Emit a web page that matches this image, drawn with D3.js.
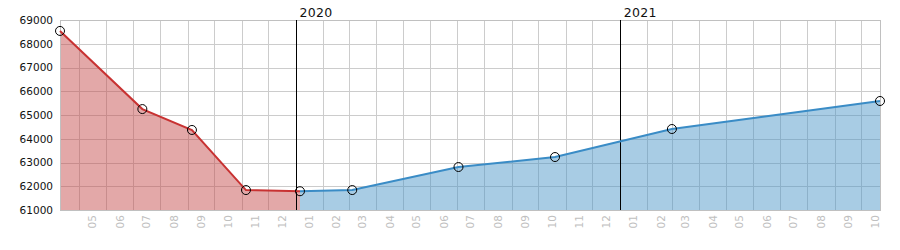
<!DOCTYPE html>
<html>
<head>
<meta charset="utf-8">
<script src="https://cdn.jsdelivr.net/npm/d3@7"></script>
<style>
  body { margin: 0; background: #fff; }
  svg { display: block; font-family: "DejaVu Sans", Verdana, sans-serif; }
</style>
</head>
<body>
<svg width="900" height="250"></svg>
<script>
// data
var redDates = ["2019-04-10", "2019-07-12", "2019-09-06", "2019-11-06", "2020-01-06"];
var redValues = [68540, 65250, 64370, 61840, 61790];
var blueDates = ["2020-01-06", "2020-03-05", "2020-07-03", "2020-10-20", "2021-03-01", "2021-10-22"];
var blueValues = [61790, 61840, 62810, 63230, 64410, 65590];
var yTicks = [61000, 62000, 63000, 64000, 65000, 66000, 67000, 68000, 69000];
var yearLabels = ["2020", "2021"];

var width = 900, height = 250;
var margin = {top: 20, bottom: 40, left: 60, right: 20};
var parse = d3.timeParse("%Y-%m-%d");

var red = redDates.map((d, i) => ({date: parse(d), value: redValues[i]}));
var blue = blueDates.map((d, i) => ({date: parse(d), value: blueValues[i]}));

//scales
var xScale = d3.scaleTime()
    .domain([parse("2019-04-10"), parse("2021-10-22")])
    .range([margin.left, width - margin.right]);
var yScale = d3.scaleLinear()
    .domain([61000, 69000])
    .range([height - margin.bottom, margin.top]);

var svg = d3.select('svg');

// grid
var months = d3.timeMonth.range(parse("2019-05-01"), parse("2021-10-02"));
svg.append('g')
    .selectAll('line')
    .data(months)
    .enter().append('line')
    .attr('x1', d => Math.round(xScale(d)) + 0.5)
    .attr('x2', d => Math.round(xScale(d)) + 0.5)
    .attr('y1', margin.top)
    .attr('y2', height - margin.bottom)
    .attr('stroke', '#cccccc');
svg.append('g')
    .selectAll('line')
    .data(yTicks)
    .enter().append('line')
    .attr('x1', margin.left)
    .attr('x2', width - margin.right)
    .attr('y1', d => Math.round(yScale(d)) + 0.5)
    .attr('y2', d => Math.round(yScale(d)) + 0.5)
    .attr('stroke', '#cccccc');

// areas
var area = d3.area()
    .x(d => xScale(d.date))
    .y0(yScale(61000))
    .y1(d => yScale(d.value));
svg.append('path').datum(red).attr('d', area)
    .attr('fill', 'rgb(196,70,70)').attr('fill-opacity', 0.47);
svg.append('path').datum(blue).attr('d', area)
    .attr('fill', 'rgb(70,147,198)').attr('fill-opacity', 0.47);

// plot border
svg.append('rect')
    .attr('x', margin.left + 0.5)
    .attr('y', margin.top + 0.5)
    .attr('width', width - margin.left - margin.right)
    .attr('height', height - margin.top - margin.bottom)
    .attr('fill', 'none')
    .attr('stroke', '#c0c0c0');

// year lines + labels
var years = yearLabels.map(y => parse(y + "-01-01"));
svg.append('g').selectAll('line')
    .data(years)
    .enter().append('line')
    .attr('x1', d => Math.round(xScale(d)) + 0.5)
    .attr('x2', d => Math.round(xScale(d)) + 0.5)
    .attr('y1', margin.top)
    .attr('y2', height - margin.bottom)
    .attr('stroke', '#000');
svg.append('g').selectAll('text')
    .data(years)
    .enter().append('text')
    .attr('x', d => xScale(d) + 4)
    .attr('y', 17)
    .attr('font-size', 12.5)
    .attr('letter-spacing', 0.3)
    .attr('fill', '#111')
    .text(d => d3.timeFormat('%Y')(d));

// lines
var line = d3.line()
    .x(d => xScale(d.date))
    .y(d => yScale(d.value));
svg.append('path').datum(red).attr('d', line)
    .attr('fill', 'none').attr('stroke', '#c83232').attr('stroke-width', 2);
svg.append('path').datum(blue).attr('d', line)
    .attr('fill', 'none').attr('stroke', '#3a8cc6').attr('stroke-width', 2);

// markers
svg.append('g').selectAll('circle')
    .data(red.concat(blue.slice(1)))
    .enter().append('circle')
    .attr('cx', d => xScale(d.date))
    .attr('cy', d => yScale(d.value))
    .attr('r', 4.5)
    .attr('fill', 'none')
    .attr('stroke', '#000')
    .attr('stroke-width', 1);

// y axis labels
var yAxis = d3.axisLeft(yScale)
    .tickValues(yTicks)
    .tickSize(0)
    .tickPadding(7)
    .tickFormat(d3.format('d'));
var gy = svg.append('g')
    .attr('transform', 'translate(' + [margin.left, 0] + ')')
    .call(yAxis);
gy.select('.domain').remove();
gy.selectAll('text').attr('font-size', 10.5).attr('fill', '#111')
    .attr('font-family', '"DejaVu Sans", Verdana, sans-serif');

// month labels, rotated
var mids = d3.timeMonth.range(parse("2019-05-01"), parse("2021-10-02"))
    .map(d => d3.timeDay.offset(d, 15));
var xAxis = d3.axisBottom(xScale)
    .tickValues(mids)
    .tickSize(0)
    .tickFormat(d3.timeFormat('%m'));
var gx = svg.append('g')
    .attr('transform', 'translate(' + [0, height - margin.bottom] + ')')
    .call(xAxis);
gx.select('.domain').remove();
gx.selectAll('text')
    .attr('transform', 'rotate(-90)')
    .attr('x', -5)
    .attr('y', 0)
    .attr('dy', '0.35em')
    .attr('text-anchor', 'end')
    .attr('font-size', 10.5)
    .attr('fill', '#c0c0c0')
    .attr('font-family', '"DejaVu Sans", Verdana, sans-serif');
</script>
</body>
</html>
